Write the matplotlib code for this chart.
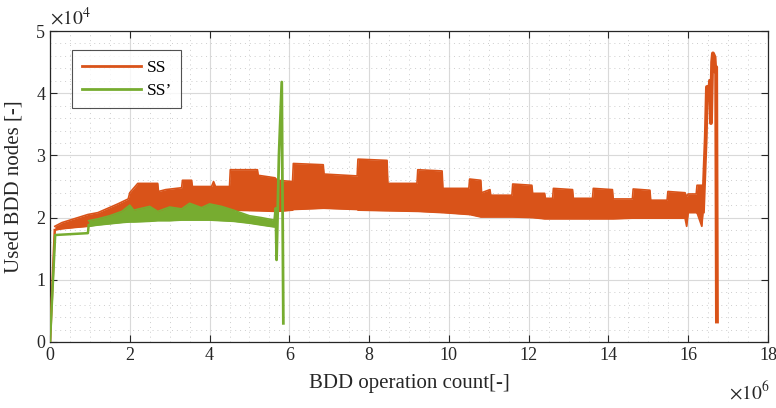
import matplotlib
matplotlib.use("Agg")
import matplotlib.pyplot as plt
from matplotlib.ticker import MultipleLocator

plt.rcParams['font.family'] = ['Liberation Serif', 'DejaVu Serif']
plt.rcParams['mathtext.fontset'] = 'stix'

ORANGE = '#D95319'
GREEN = '#77AC30'

# ---- SS : operation count (x1e6) vs used BDD nodes (x1e4) ----
ss_lead_x = [0.0, 0.12]
ss_lead_y = [0.0, 1.80]

ss_band_x = [0.12, 0.30, 0.60, 0.95, 1.20, 1.45, 1.70, 1.96, 2.00, 2.20,
             2.70, 2.72, 2.90, 3.30, 3.32, 3.55, 3.57, 4.05, 4.10, 4.15,
             4.50, 4.52, 5.20, 5.22, 5.64, 5.70, 6.08, 6.10, 6.85, 6.87,
             7.70, 7.72, 8.45, 8.47, 9.20, 9.22, 9.83, 9.85, 10.50, 10.52,
             10.80, 10.82, 11.03, 11.05, 11.58, 11.60, 12.08, 12.10, 12.40, 12.42,
             12.60, 12.62, 13.10, 13.12, 13.60, 13.62, 14.10, 14.12, 14.60, 14.62,
             15.04, 15.06, 15.47, 15.49, 15.92, 15.96, 16.00, 16.20, 16.22, 16.34,
             16.37]
ss_band_hi = [1.86, 1.92, 1.98, 2.05, 2.08, 2.15, 2.22, 2.30, 2.40, 2.55,
              2.55, 2.42, 2.45, 2.48, 2.60, 2.60, 2.50, 2.50, 2.58, 2.50,
              2.50, 2.77, 2.77, 2.68, 2.64, 2.60, 2.58, 2.87, 2.85, 2.70,
              2.67, 2.94, 2.92, 2.55, 2.55, 2.77, 2.75, 2.47, 2.47, 2.62,
              2.60, 2.40, 2.45, 2.36, 2.36, 2.54, 2.52, 2.39, 2.39, 2.31,
              2.31, 2.47, 2.45, 2.31, 2.31, 2.47, 2.45, 2.30, 2.30, 2.46,
              2.44, 2.28, 2.28, 2.42, 2.40, 2.34, 2.38, 2.38, 2.52, 2.52,
              2.52]
ss_band_lo = [1.80, 1.82, 1.84, 1.86, 1.90, 1.92, 1.94, 1.96, 1.97, 2.00,
              2.05, 2.05, 2.08, 2.12, 2.14, 2.18, 2.18, 2.16, 2.16, 2.15,
              2.12, 2.12, 2.11, 2.11, 2.10, 2.10, 2.12, 2.13, 2.15, 2.15,
              2.13, 2.12, 2.11, 2.11, 2.10, 2.10, 2.08, 2.08, 2.05, 2.05,
              2.01, 2.01, 2.01, 2.01, 2.01, 2.01, 2.00, 2.00, 1.98, 1.98,
              1.98, 1.98, 1.98, 1.98, 1.98, 1.98, 1.98, 1.98, 1.99, 1.99,
              1.99, 1.99, 1.99, 1.99, 1.99, 1.86, 2.08, 2.08, 2.08, 1.86,
              2.08]

ss_tail_x = [16.37, 16.44, 16.47, 16.50, 16.55, 16.57, 16.60, 16.62, 16.66,
             16.68, 16.70, 16.72]
ss_tail_y = [2.10, 3.30, 4.10, 3.90, 4.20, 3.52, 4.50, 4.64, 4.58,
             4.35, 4.42, 0.33]

# ---- SS' ----
ssp_lead_x = [0.0, 0.13, 0.95, 0.97]
ssp_lead_y = [0.0, 1.72, 1.75, 1.88]

ssp_band_x = [0.97, 1.20, 1.50, 1.80, 2.00, 2.10, 2.50, 2.70, 3.00, 3.30,
              3.50, 3.80, 4.00, 4.30, 4.60, 5.00, 5.30, 5.62]
ssp_band_hi = [1.95, 1.98, 2.03, 2.10, 2.20, 2.12, 2.18, 2.10, 2.17, 2.14,
               2.23, 2.16, 2.22, 2.18, 2.12, 2.03, 2.00, 1.96]
ssp_band_lo = [1.86, 1.88, 1.90, 1.92, 1.93, 1.93, 1.94, 1.95, 1.95, 1.96,
               1.96, 1.96, 1.96, 1.95, 1.94, 1.91, 1.88, 1.85]

ssp_tail_x = [5.62, 5.66, 5.68, 5.74, 5.81, 5.85]
ssp_tail_y = [1.88, 2.15, 1.32, 3.00, 4.18, 0.30]

x_ticks = [0, 2, 4, 6, 8, 10, 12, 14, 16, 18]
y_ticks = [0, 1, 2, 3, 4, 5]

fig = plt.figure(figsize=(7.76, 4.08), dpi=100)
ax = fig.add_axes([50 / 776, 66 / 408, 718 / 776, 311 / 408])

# SS
ax.plot(ss_lead_x, ss_lead_y, color=ORANGE, lw=1.8, zorder=3)
ax.fill_between(ss_band_x, ss_band_lo, ss_band_hi, color=ORANGE, lw=0, zorder=3)
ax.plot(ss_band_x, ss_band_hi, color=ORANGE, lw=1.2, zorder=3)
ax.plot(ss_band_x, ss_band_lo, color=ORANGE, lw=1.2, zorder=3)
ax.plot(ss_tail_x, ss_tail_y, color=ORANGE, lw=2.8, zorder=3)

# SS'
ax.plot(ssp_lead_x, ssp_lead_y, color=GREEN, lw=1.8, zorder=4)
ax.fill_between(ssp_band_x, ssp_band_lo, ssp_band_hi, color=GREEN, lw=0, zorder=4)
ax.plot(ssp_band_x, ssp_band_hi, color=GREEN, lw=1.2, zorder=4)
ax.plot(ssp_band_x, ssp_band_lo, color=GREEN, lw=1.2, zorder=4)
ax.plot(ssp_tail_x, ssp_tail_y, color=GREEN, lw=2.0, zorder=4)

# legend proxies
h1, = ax.plot([], [], color=ORANGE, lw=2, label='SS')
h2, = ax.plot([], [], color=GREEN, lw=2, label='SS\u2019')

ax.set_xlim(0, 18)
ax.set_ylim(0, 5)
ax.set_xticks(x_ticks)
ax.set_yticks(y_ticks)
ax.xaxis.set_minor_locator(MultipleLocator(0.5))
ax.yaxis.set_minor_locator(MultipleLocator(0.2))
ax.tick_params(which='both', direction='in', top=True, right=True,
               colors='#262626', labelsize=13)
ax.tick_params(which='major', length=5, width=0.8)
ax.tick_params(which='minor', length=0)
ax.grid(which='major', color='#d9d9d9', lw=0.8, zorder=0)
ax.grid(which='minor', color='#cdcdcd', lw=0.7, ls=(0, (1, 4)), zorder=0)
ax.set_axisbelow(True)
for s in ax.spines.values():
    s.set_color('#262626')
    s.set_linewidth(0.9)

ax.set_xlabel('BDD operation count[-]', fontsize=15, color='#262626', labelpad=7)
ax.set_ylabel('Used BDD nodes [-]', fontsize=15, color='#262626', labelpad=9)

fig.text(50 / 776, 1 - 18 / 408, r'$\times10^{4}$', fontsize=14,
         color='#262626', ha='left', va='center')
fig.text(770 / 776, 1 - 392 / 408, r'$\times10^{6}$', fontsize=14,
         color='#262626', ha='right', va='center')

leg = ax.legend(handles=[h1, h2], loc='upper left',
                bbox_to_anchor=(22 / 718, 1 - 19 / 311), borderaxespad=0,
                prop={'family': 'Liberation Serif', 'size': 12.5},
                frameon=True, fancybox=False, edgecolor='#262626',
                handlelength=3.4, borderpad=0.55, labelspacing=0.4,
                handletextpad=0.35)
leg.get_frame().set_linewidth(0.8)

fig.savefig('out.png', dpi=100)
